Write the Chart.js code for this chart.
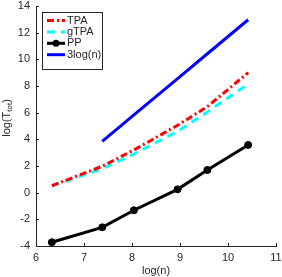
<!DOCTYPE html>
<html>
<head>
<meta charset="utf-8">
<script src="https://cdn.jsdelivr.net/npm/chart.js@4"></script>
<style>
  body { margin: 0; background: #fff; }
  #wrap { width: 282px; height: 277px; }
</style>
</head>
<body>
<div id="wrap"><canvas id="grafico" width="282" height="277"></canvas></div>
<script>
// Datos
const logN = [6.33, 7.38, 8.04, 8.95, 9.57, 10.42];
const tpa = [0.52, 1.98, 3.2, 5.05, 6.45, 9.0];
const gtpa = [0.5, 1.8, 2.9, 4.6, 6.05, 8.15];
const pp = [-3.72, -2.6, -1.32, 0.25, 1.7, 3.58];
const logNRef = [7.38, 8.04, 8.95, 9.57, 10.42];
const tresLog = [3.85, 5.83, 8.56, 10.42, 12.97];
const xTicks = [6, 7, 8, 9, 10, 11];
const yTicks = [-4, -2, 0, 2, 4, 6, 8, 10, 12, 14];

const FUENTE = "'Liberation Sans', Arial, sans-serif";
const GRIS = '#262626';

const pares = (xs, ys) => xs.map((x, i) => ({ x: x, y: ys[i] }));

// Plugin: ticks hacia adentro, titulos de ejes y leyenda
const extras = {
  id: 'extras',
  afterDraw(chart) {
    const c = chart.ctx;
    const a = chart.chartArea;
    const sx = chart.scales.x, sy = chart.scales.y;
    c.save();
    c.strokeStyle = GRIS;
    c.lineWidth = 1;
    c.beginPath();
    xTicks.forEach(v => {
      const p = Math.round(sx.getPixelForValue(v)) + 0.5;
      c.moveTo(p, a.bottom); c.lineTo(p, a.bottom - 3);
    });
    yTicks.forEach(v => {
      const p = Math.round(sy.getPixelForValue(v)) + 0.5;
      c.moveTo(a.left, p); c.lineTo(a.left + 3, p);
    });
    c.stroke();

    // titulo eje x
    c.fillStyle = GRIS;
    c.font = '11px ' + FUENTE;
    c.textAlign = 'center';
    c.textBaseline = 'middle';
    c.fillText('log(n)', (a.left + a.right) / 2, 271);

    // titulo eje y con subindice
    c.save();
    c.translate(7, 118);
    c.rotate(-Math.PI / 2);
    c.textBaseline = 'middle';
    c.textAlign = 'left';
    const p1 = 'log(T', sub = 'tot', p2 = ')';
    c.font = '11px ' + FUENTE;
    const w1 = c.measureText(p1).width, w3 = c.measureText(p2).width;
    c.font = '8px ' + FUENTE;
    const w2 = c.measureText(sub).width;
    let x0 = -(w1 + w2 + w3) / 2;
    c.font = '11px ' + FUENTE;
    c.fillText(p1, x0, 0);
    c.font = '8px ' + FUENTE;
    c.fillText(sub, x0 + w1, 3);
    c.font = '11px ' + FUENTE;
    c.fillText(p2, x0 + w1 + w2, 0);
    c.restore();

    // leyenda
    c.fillStyle = '#fff';
    c.fillRect(42.5, 12.5, 60, 57);
    c.strokeStyle = GRIS;
    c.lineWidth = 1;
    c.strokeRect(42.5, 12.5, 60, 57);
    chart.data.datasets.forEach((ds, i) => {
      const y = 20.5 + i * 11.4;
      c.strokeStyle = ds.borderColor;
      c.lineWidth = ds.borderWidth;
      c.setLineDash(ds.borderDash || []);
      c.beginPath();
      c.moveTo(47, y); c.lineTo(65, y);
      c.stroke();
      c.setLineDash([]);
      if (ds.pointRadius > 0) {
        c.fillStyle = ds.pointBackgroundColor;
        c.beginPath();
        c.arc(56, y, ds.pointRadius, 0, Math.PI * 2);
        c.fill();
      }
      c.fillStyle = GRIS;
      c.font = '11px ' + FUENTE;
      c.textAlign = 'left';
      c.textBaseline = 'middle';
      c.fillText(ds.label, 67, y);
    });
    c.restore();
  }
};

const ctx = document.getElementById('grafico').getContext('2d');
new Chart(ctx, {
  type: 'scatter',
  data: {
    datasets: [
      { label: 'TPA', data: pares(logN, tpa), showLine: true, borderColor: '#ff0000',
        borderWidth: 3, borderDash: [7, 3, 2, 3], pointRadius: 0 },
      { label: 'gTPA', data: pares(logN, gtpa), showLine: true, borderColor: '#00ffff',
        borderWidth: 3, borderDash: [8, 6], pointRadius: 0 },
      { label: 'PP', data: pares(logN, pp), showLine: true, borderColor: '#000000',
        borderWidth: 3, pointRadius: 3.5, pointBackgroundColor: '#000000',
        pointBorderColor: '#000000', pointBorderWidth: 1 },
      { label: '3log(n)', data: pares(logNRef, tresLog), showLine: true, borderColor: '#0000ff',
        borderWidth: 3, pointRadius: 0 }
    ]
  },
  options: {
    responsive: false,
    animation: false,
    layout: { padding: { top: 6, right: 6, left: 0, bottom: 0 } },
    plugins: { legend: { display: false }, tooltip: { enabled: false } },
    scales: {
      x: {
        type: 'linear', min: 6, max: 11,
        afterBuildTicks: s => { s.ticks = xTicks.map(v => ({ value: v })); },
        afterFit: s => { s.height = 31; s.paddingLeft = 0; s.paddingRight = 0; },
        grid: { display: false, drawTicks: false },
        border: { display: true, color: GRIS, width: 1 },
        ticks: { color: GRIS, font: { size: 11, family: FUENTE }, padding: 5, maxRotation: 0 }
      },
      y: {
        type: 'linear', min: -4, max: 14,
        afterBuildTicks: s => { s.ticks = yTicks.map(v => ({ value: v })); },
        afterFit: s => { s.width = 36; s.paddingTop = 0; s.paddingBottom = 0; },
        grid: { display: false, drawTicks: false },
        border: { display: true, color: GRIS, width: 1 },
        ticks: { color: GRIS, font: { size: 11, family: FUENTE }, padding: 6 }
      }
    }
  },
  plugins: [extras]
});
</script>
</body>
</html>
